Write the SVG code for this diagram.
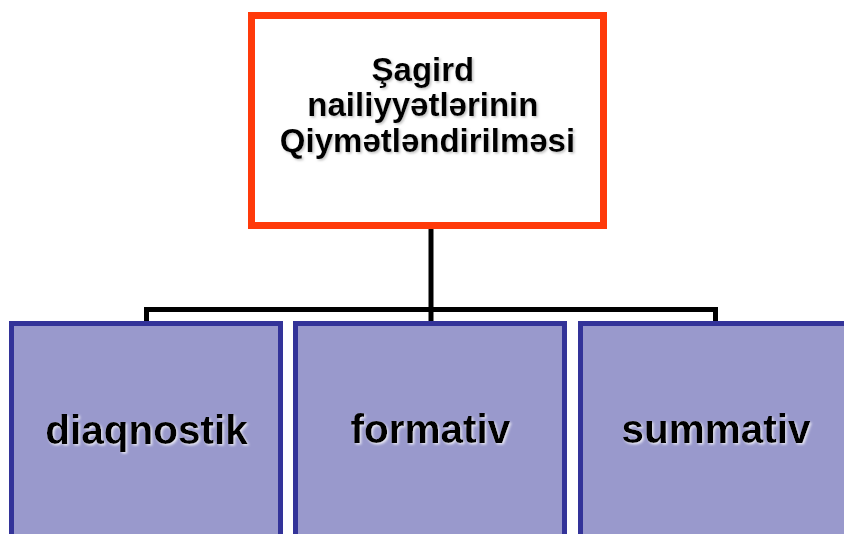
<svg xmlns="http://www.w3.org/2000/svg" width="844" height="534" viewBox="0 0 844 534">
  <defs>
    <filter id="sh" x="-10%" y="-20%" width="120%" height="150%">
      <feDropShadow dx="1.5" dy="1.5" stdDeviation="0.8" flood-color="#ffffff" flood-opacity="0.75"/>
    </filter>
    <filter id="sh2" x="-10%" y="-20%" width="120%" height="150%">
      <feDropShadow dx="1.5" dy="1.5" stdDeviation="0.8" flood-color="#999999" flood-opacity="0.6"/>
    </filter>
  </defs>
  <style>
    .root { fill: #ffffff; stroke: #ff3a0a; stroke-width: 7; }
    .child { fill: #9999cc; stroke: #333399; stroke-width: 5; }
    .conn { fill: none; stroke: #000000; stroke-width: 5; stroke-linejoin: miter; }
    .t1 { font-family: "Liberation Sans", Arial, sans-serif; font-weight: bold; font-size: 33px; fill: #000000; text-anchor: middle; }
    .t2 { font-family: "Liberation Sans", Arial, sans-serif; font-weight: bold; font-size: 40.5px; fill: #000000; text-anchor: middle; }
  </style>
  <rect width="844" height="534" fill="#ffffff"/>
  <g id="connectors">
    <path class="conn" d="M431,229 V321"/>
    <path class="conn" d="M146.5,322 V309.5 H715.5 V322"/>
  </g>
  <g id="root">
    <rect class="root" x="251.5" y="15.5" width="352" height="210"/>
    <text class="t1" x="427.5" filter="url(#sh2)">
      <tspan x="427.5" y="81">Şagird</tspan>
      <tspan x="427.5" y="116">nailiyyətlərinin</tspan>
      <tspan x="427.5" y="152">Qiymətləndirilməsi</tspan>
    </text>
  </g>
  <g id="diaqnostik">
    <rect class="child" x="11.5" y="323.5" width="269" height="220"/>
    <text class="t2" x="146.5" y="444" filter="url(#sh)">diaqnostik</text>
  </g>
  <g id="formativ">
    <rect class="child" x="295.5" y="323.5" width="269" height="220"/>
    <text class="t2" x="430.5" y="443" filter="url(#sh)">formativ</text>
  </g>
  <g id="summativ">
    <rect class="child" x="580.5" y="323.5" width="269" height="220"/>
    <text class="t2" x="716" y="443" filter="url(#sh)">summativ</text>
  </g>
</svg>
